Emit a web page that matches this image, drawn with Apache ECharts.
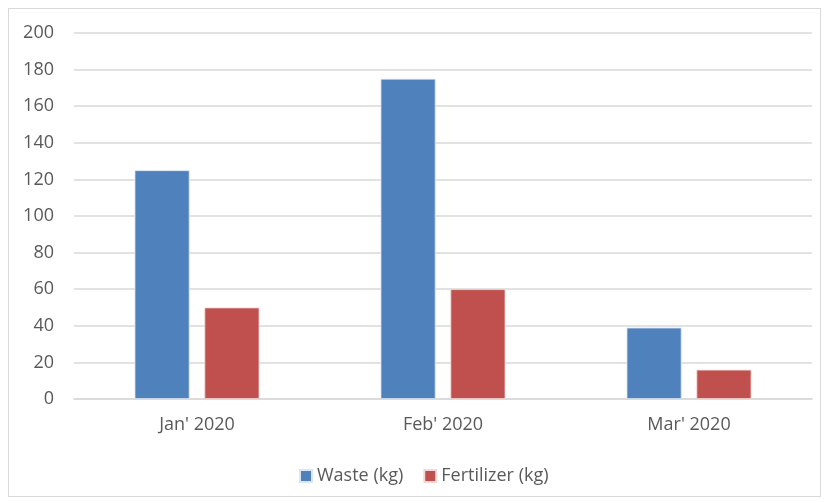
<!DOCTYPE html>
<html>
<head>
<meta charset="utf-8">
<script src="https://cdn.jsdelivr.net/npm/echarts@6/dist/echarts.min.js"></script>
<style>
  html, body { margin: 0; padding: 0; background: #fff; }
  #frame { position: absolute; left: 8px; top: 8px; width: 813px; height: 489px; border: 1px solid #d9d9d9; box-sizing: border-box; }
  #chart { position: absolute; left: 0; top: 0; width: 828px; height: 503px; }
</style>
</head>
<body>
<div id="frame"></div>
<div id="chart"></div>
<script>
// Monthly totals in kilograms
const months = ["Jan' 2020", "Feb' 2020", "Mar' 2020"];
const waste = [125, 175, 39];
const fertilizer = [50, 60, 16];
const yTicks = { min: 0, max: 200, interval: 20 };

const textColor = '#595959';
const fontFamily = '"Open Sans", "Liberation Sans", sans-serif';

const chart = echarts.init(document.getElementById('chart'), null, { renderer: 'canvas' });
chart.setOption({
  animation: false,
  textStyle: { fontFamily: fontFamily, color: textColor },
  grid: { left: 74, right: 16, top: 33, bottom: 104, containLabel: false },
  legend: {
    top: 462,
    left: 294,
    itemWidth: 12,
    itemHeight: 12,
    itemGap: 20,
    icon: 'rect',
    textStyle: { fontSize: 18, color: textColor, fontFamily: fontFamily },
    data: ['Waste (kg)', 'Fertilizer (kg)']
  },
  xAxis: {
    type: 'category',
    data: months,
    axisLine: { show: true, lineStyle: { color: '#d9d9d9', width: 1.5 } },
    axisTick: { show: false },
    axisLabel: { fontSize: 18, color: textColor, margin: 17, fontFamily: fontFamily }
  },
  yAxis: {
    type: 'value',
    min: yTicks.min,
    max: yTicks.max,
    interval: yTicks.interval,
    axisLine: { show: false },
    axisTick: { show: false },
    axisLabel: { fontSize: 18, color: textColor, margin: 20, fontFamily: fontFamily },
    splitLine: { lineStyle: { color: '#d9d9d9', width: 1.5 } }
  },
  series: [
    {
      name: 'Waste (kg)',
      type: 'bar',
      data: waste,
      barWidth: 55,
      barGap: '27%',
      itemStyle: { color: '#4F81BD', borderColor: '#dbe6f3', borderWidth: 0.8 }
    },
    {
      name: 'Fertilizer (kg)',
      type: 'bar',
      data: fertilizer,
      barWidth: 55,
      itemStyle: { color: '#C0504D', borderColor: '#f2d9d8', borderWidth: 0.8 }
    }
  ]
});
</script>
</body>
</html>
